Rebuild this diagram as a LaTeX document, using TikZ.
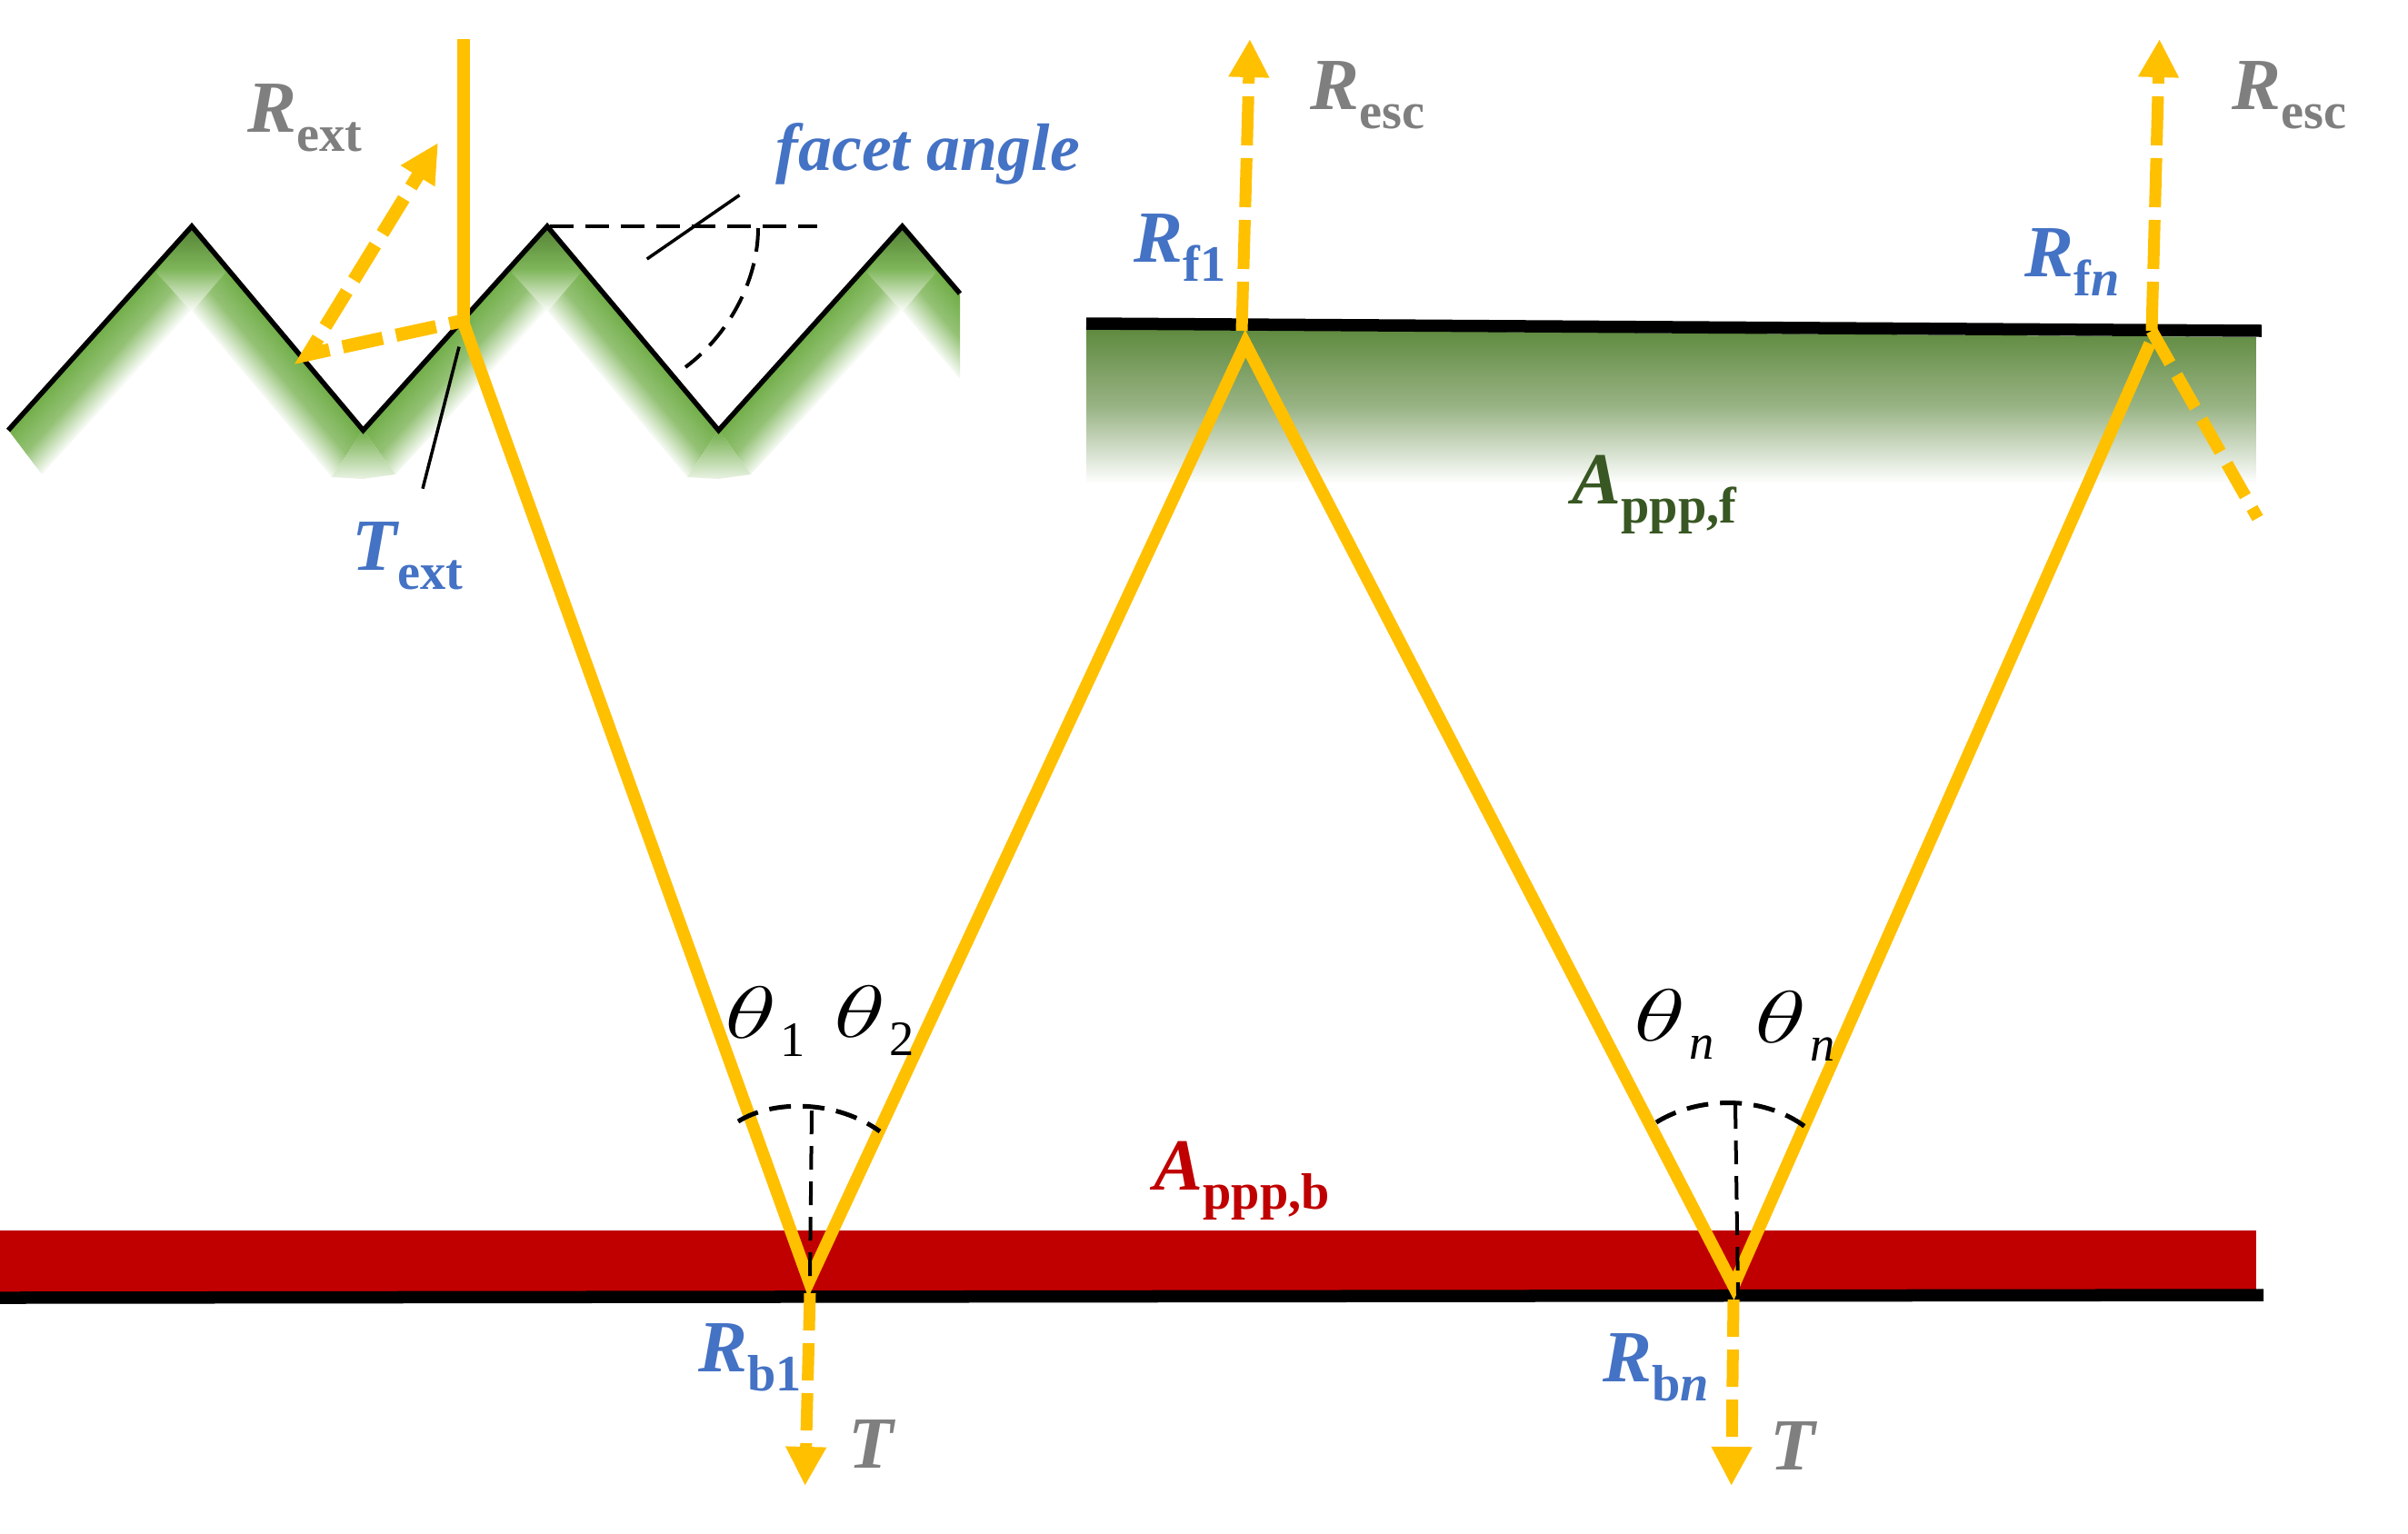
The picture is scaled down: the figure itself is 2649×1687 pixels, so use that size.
\documentclass[tikz,border=0pt]{standalone}
\usepackage{fontspec}
\setmainfont{Liberation Serif}
\usetikzlibrary{arrows.meta}
\definecolor{ray}{HTML}{FFC000}
\definecolor{leaf}{HTML}{70AD47}
\definecolor{leafdark}{HTML}{548235}
\definecolor{frontgreen}{HTML}{5F8A3F}
\definecolor{frontmid}{HTML}{98B384}
\definecolor{absgreen}{HTML}{385723}
\definecolor{absred}{HTML}{C00000}
\definecolor{labblue}{HTML}{4472C4}
\definecolor{labgray}{HTML}{7F7F7F}
\tikzset{
  rayline/.style={draw=ray,line width=0.135cm},
  rayup/.style={draw=ray,line width=0.13cm,dash pattern=on 0.54cm off 0.14cm,-{Triangle[length=0.42cm,width=0.42cm]}},
  raydown/.style={draw=ray,line width=0.13cm,dash pattern=on 0.41cm off 0.14cm,-{Triangle[length=0.43cm,width=0.42cm]}},
  rayback/.style={draw=ray,line width=0.145cm,dash pattern=on 0.45cm off 0.15cm,dash phase=0.3cm,-{Triangle[length=0.43cm,width=0.41cm]}},
  raycut/.style={draw=ray,line width=0.135cm,dash pattern=on 0.41cm off 0.15cm},
  bar/.style={draw=black,line width=0.135cm},
  facet/.style={draw=black,line width=0.055cm},
  leader/.style={draw=black,line width=0.035cm},
  guide/.style={draw=black,line width=0.04cm,dash pattern=on 0.26cm off 0.13cm},
  arcmark/.style={draw=black,line width=0.05cm,dash pattern=on 0.24cm off 0.13cm},
  sym/.style={anchor=base west,inner sep=0pt},
}
\newcommand{\lab}[2]{{\fontsize{23}{23}\selectfont\bfseries\itshape #1}\raisebox{-6pt}{\fontsize{16}{16}\selectfont\bfseries #2}}
\newcommand{\thet}[1]{\scalebox{1.35}[0.93]{\fontsize{24.88}{25}\selectfont$\theta$}\raisebox{-5.7pt}{\fontsize{15.5}{15.5}\selectfont\kern1pt #1}}
\def\drawFacets{
\begin{scope}
  \clip (0,0) rectangle (1056,600);
  % one band per facet: clip outline, then a shade turned along the facet
  \foreach \ax/\ay/\bx/\by/\cx/\cy/\dx/\dy/\ang/\len in {
      9/473/211/249/211/342/46/522/48/302,
      211/249/399.5/473/365/525/211/342/-50/293,
      399.5/473/602/249/602/342/435/522/48/302,
      602/249/790.5/473/756/525/602/342/-50/293,
      790.5/473/992.6/249/992.6/342/826/522/48/302,
      992.6/249/1181/473/1147/525/992.6/342/-50/293}{
    \begin{scope}
      \clip (\ax,\ay) -- (\bx,\by) -- (\cx,\cy) -- (\dx,\dy) -- cycle;
      \begin{scope}[transform canvas={shift={(\ax,\ay)},rotate=\ang}]
        \shade[top color=leaf,bottom color=white,middle color=leaf!75] (-100,0) rectangle (\len+100,62);
      \end{scope}
    \end{scope}
  }
  \foreach \px in {211,602,992.6}{
    \shade[top color=leafdark,bottom color=white,middle color=leaf!90]
      (\px,249) -- (\px+37,300) -- (\px,343) -- (\px-39,300) -- cycle;
  }
  \foreach \px in {399.5,790.5}{
    \shade[top color=leaf,bottom color=leaf!15]
      (\px,473) -- (\px+35.5,522) -- (\px,527) -- (\px-34.5,525) -- cycle;
  }
\end{scope}
}

\begin{document}
\begin{tikzpicture}[x=0.01cm,y=-0.01cm]
  \useasboundingbox (0,0) rectangle (2649,1687);
  \coordinate (Z0) at (9,473.5);
  \coordinate (Z1) at (211,249);
  \coordinate (Z2) at (399.5,473.5);
  \coordinate (Z3) at (602,249);
  \coordinate (Z4) at (790.5,473.5);
  \coordinate (Z5) at (992.6,249);
  \coordinate (Z6) at (1056,323);
  \coordinate (Inc) at (510,43);
  \coordinate (H) at (509,353);
  \coordinate (Hend) at (510,358);
  \coordinate (Bk) at (339,390);
  \coordinate (Btip) at (482,157);
  \coordinate (B1) at (890,1410);
  \coordinate (F1) at (1370,378);
  \coordinate (B2) at (1907,1415);
  \coordinate (F2) at (2365,378);
  \coordinate (Out1a) at (1366,364);
  \coordinate (Out1b) at (1375,43);
  \coordinate (Out2a) at (2367,364);
  \coordinate (Out2b) at (2375.6,43);
  \coordinate (Cut2) at (2483.6,570);
  \coordinate (Tr1a) at (891,1423);
  \coordinate (Tr1b) at (885.6,1635);
  \coordinate (Tr2a) at (1907,1430);
  \coordinate (Tr2b) at (1904.6,1635);

  % absorbing layers
  \drawFacets
  \shade[top color=frontgreen,bottom color=white,middle color=frontmid] (1195,362) -- (2482,371) -- (2482,532) -- (1195,532) -- cycle;
  \fill[absred] (0,1354) rectangle (2482,1424);
  \coordinate (BarFa) at (1195,356);
  \coordinate (BarFb) at (2488,364);
  \coordinate (BarBa) at (0,1428);
  \coordinate (BarBb) at (2490,1425);
  \draw[bar] (BarFa) -- (BarFb);
  \draw[bar] (BarBa) -- (BarBb);
  \draw[facet] (Z0) -- (Z1) -- (Z2) -- (Z3) -- (Z4) -- (Z5) -- (Z6);

  % leaders and angle marks
  \coordinate (AngA) at (604.6,249);
  \coordinate (AngB) at (899,249);
  \coordinate (ArcA) at (834,251);
  \coordinate (ArcB) at (754,404);
  \coordinate (LdA) at (813.5,214.7);
  \coordinate (LdB) at (711.7,285);
  \coordinate (LdC) at (505,381.6);
  \coordinate (LdD) at (465,537.7);
  \draw[guide] (AngA) -- (AngB);
  \draw[guide] (ArcA) .. controls (834,310) and (800,370) .. (ArcB);
  \draw[leader] (LdA) -- (LdB);
  \draw[leader] (LdC) -- (LdD);

  % rays
  \draw[rayback] (H) -- (Bk) -- (Btip);
  \draw[rayline] (Inc) -- (Hend);
  \draw[rayline] (H) -- (B1) -- (F1) -- (B2) -- (F2);
  \draw[rayup] (Out1a) -- (Out1b);
  \draw[rayup] (Out2a) -- (Out2b);
  \draw[raydown] (Tr1a) -- (Tr1b);
  \draw[raydown] (Tr2a) -- (Tr2b);
  \draw[raycut] (Out2a) -- (Cut2);

  % normals at the back
  \coordinate (NaA) at (893,1222);
  \coordinate (NaB) at (891,1407);
  \coordinate (NbA) at (1909,1216);
  \coordinate (NbB) at (1912,1425);
  \coordinate (AaL) at (812,1234);
  \coordinate (AaR) at (968,1245);
  \coordinate (AbL) at (1822,1235);
  \coordinate (AbR) at (1991,1244);
  \draw[guide] (NaA) -- (NaB);
  \draw[guide] (NbA) -- (NbB);
  \draw[arcmark] (AaL) .. controls (850,1210) and (920,1210) .. (AaR);
  \draw[arcmark] (AbL) .. controls (1870,1205) and (1945,1205) .. (AbR);

  % labels
  \node (Rext) [sym,text=labgray] at (272,145) {\lab{R}{ext}};
  \node (facetangle) [sym,text=labblue] at (853,187) {\fontsize{21}{21}\selectfont\bfseries\itshape facet angle};
  \node (Text) [sym,text=labblue] at (387,627) {\lab{T}{ext}};
  \node (Resca) [sym,text=labgray] at (1441,120) {\lab{R}{esc}};
  \node (Rescb) [sym,text=labgray] at (2455,120) {\lab{R}{esc}};
  \node (Rfa) [sym,text=labblue] at (1247,288) {\lab{R}{f1}};
  \node (Rfn) [sym,text=labblue] at (2227,304) {\lab{R}{f\textit{n}}};
  \node (Apppf) [sym,text=absgreen] at (1729,554) {\lab{A}{ppp,f}};
  \node (Apppb) [sym,text=absred] at (1269,1309) {\lab{A}{ppp,b}};
  \node (Rba) [sym,text=labblue] at (768,1509) {\lab{R}{b1}};
  \node (Rbn) [sym,text=labblue] at (1763,1520) {\lab{R}{b\textit{n}}};
  \node (Ta) [sym,text=labgray] at (933,1615) {\fontsize{23}{23}\selectfont\bfseries\itshape T};
  \node (Tb) [sym,text=labgray] at (1947,1617) {\fontsize{23}{23}\selectfont\bfseries\itshape T};
  \node (tha) [sym] at (797,1142) {\thet{1}};
  \node (thb) [sym] at (917,1141) {\thet{2}};
  \node (thc) [sym] at (1797,1145) {\thet{\textit{n}}};
  \node (thd) [sym] at (1930,1147) {\thet{\textit{n}}};
\end{tikzpicture}
\end{document}
